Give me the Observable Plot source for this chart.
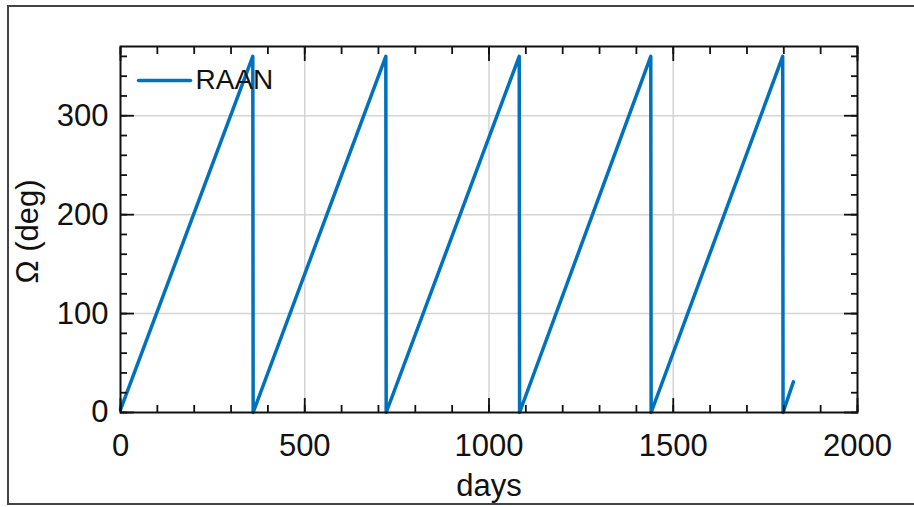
<!DOCTYPE html>
<html>
<head>
<meta charset="utf-8">
<script src="https://cdn.jsdelivr.net/npm/d3@7"></script>
<script src="https://cdn.jsdelivr.net/npm/@observablehq/plot@0.6"></script>
<style>
  html, body { margin: 0; padding: 0; background: #fff; overflow: hidden; }
  #wrap { position: relative; width: 914px; height: 507px; }
  #outer { position: absolute; left: 7px; top: 5px; width: 930px; height: 496px; border: 2px solid #444; pointer-events: none; }
</style>
</head>
<body>
<div id="wrap"><div id="chart"></div><div id="outer"></div></div>
<script>
// Data (RAAN sawtooth)
const days = [0, 359, 360, 720, 721, 1082, 1083, 1439, 1440, 1797, 1798, 1826];
const raan = [3, 360, 0, 360, 0, 360, 0, 360, 0, 360, 0, 31];

const xMajor = [0, 500, 1000, 1500, 2000];
const xMinor = d3.range(0, 2001, 100);
const yMajor = [0, 100, 200, 300];
const yMinor = d3.range(0, 371, 20);
const xGrid = [500, 1000, 1500];
const yGrid = [100, 200, 300];
const seriesName = "RAAN";
const xTitle = "days";
const yTitle = "Ω (deg)";

const data = days.map((d, i) => ({day: d, value: raan[i]}));

const font = "Liberation Sans, Arial, Helvetica, sans-serif";
const blue = "#0072BD";
const fmt = d3.format("d");

const chart = Plot.plot({
  width: 914,
  height: 507,
  marginLeft: 120,
  marginRight: 57,
  marginTop: 46,
  marginBottom: 95,
  style: {fontFamily: font, background: "transparent", color: "#111"},
  x: {domain: [0, 2000]},
  y: {domain: [0, 370]},
  marks: [
    Plot.gridX(xGrid, {stroke: "#d4d4d4", strokeOpacity: 1, strokeWidth: 1.5}),
    Plot.gridY(yGrid, {stroke: "#d4d4d4", strokeOpacity: 1, strokeWidth: 1.5}),
    Plot.line(data, {x: "day", y: "value", stroke: blue, strokeWidth: 3.5, curve: "linear"}),
    // legend
    Plot.vector([0], {frameAnchor: "top-left", dx: 18, dy: 34, length: 52, rotate: 90, anchor: "start", stroke: blue, strokeWidth: 3.5, shape: {draw(c, l) { c.moveTo(0, 0); c.lineTo(0, -l); }}}),
    Plot.text([seriesName], {frameAnchor: "top-left", dx: 75, dy: 34, text: d => d, textAnchor: "start", lineAnchor: "middle", fontSize: 28, fill: "#111"}),
    // tick labels
    Plot.axisX(xMajor, {tickSize: 0, tickPadding: 21, fontSize: 31, label: null, fill: "#111", tickFormat: fmt}),
    Plot.axisY(yMajor, {tickSize: 0, tickPadding: 12, fontSize: 31, label: null, fill: "#111", tickFormat: fmt}),
    // inward ticks on all sides
    Plot.axisX(xMajor, {anchor: "bottom", tickSize: -14, fill: "none", label: null, stroke: "#111", strokeWidth: 1.8}),
    Plot.axisX(xMinor, {anchor: "bottom", tickSize: -7, fill: "none", label: null, stroke: "#111", strokeWidth: 1.8}),
    Plot.axisX(xMajor, {anchor: "top", tickSize: -14, fill: "none", label: null, stroke: "#111", strokeWidth: 1.8}),
    Plot.axisX(xMinor, {anchor: "top", tickSize: -7, fill: "none", label: null, stroke: "#111", strokeWidth: 1.8}),
    Plot.axisY(yMajor, {anchor: "left", tickSize: -14, fill: "none", label: null, stroke: "#111", strokeWidth: 1.8}),
    Plot.axisY(yMinor, {anchor: "left", tickSize: -7, fill: "none", label: null, stroke: "#111", strokeWidth: 1.8}),
    Plot.axisY(yMajor, {anchor: "right", tickSize: -14, fill: "none", label: null, stroke: "#111", strokeWidth: 1.8}),
    Plot.axisY(yMinor, {anchor: "right", tickSize: -7, fill: "none", label: null, stroke: "#111", strokeWidth: 1.8}),
    Plot.frame({stroke: "#111", strokeWidth: 2}),
    // axis titles
    Plot.text([xTitle], {frameAnchor: "bottom", dy: 74, text: d => d, textAnchor: "middle", lineAnchor: "middle", fontSize: 31, fill: "#111"}),
    Plot.text([yTitle], {frameAnchor: "left", dx: -92, dy: 2, rotate: -90, text: d => d, textAnchor: "middle", lineAnchor: "middle", fontSize: 31, fill: "#111"})
  ]
});
document.getElementById("chart").appendChild(chart);
</script>
</body>
</html>
